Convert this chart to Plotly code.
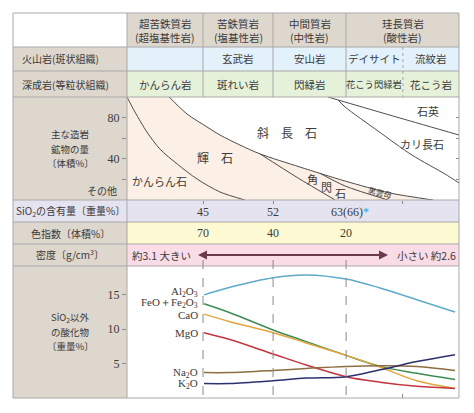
import plotly.graph_objects as go

W, H = 474, 413

# ---------------- data ----------------
group_names = [["超苦鉄質岩", "(超塩基性岩)"], ["苦鉄質岩", "(塩基性岩)"], ["中間質岩", "(中性岩)"], ["珪長質岩", "(酸性岩)"]]
volcanic_rocks = ["", "玄武岩", "安山岩", "デイサイト", "流紋岩"]
plutonic_rocks = ["かんらん岩", "斑れい岩", "閃緑岩", "花こう閃緑岩", "花こう岩"]
row_labels = ["火山岩(斑状組織)", "深成岩(等粒状組織)"]
sio2_values = ["45", "52", "63(66)<span style='color:#2f9fd8'>*</span>"]
color_index_values = ["70", "40", "20"]
density_ends = ["約3.1 大きい", "小さい 約2.6"]

# column boundaries along the body (position 0-100)
col_bounds = [22.9, 44.0, 66.0]
felsic_split = 83.1

# mineral boundary curves (position, cumulative volume %)
olivine_top_x = [0, 2.4, 6.0, 9.9, 15.1, 21.1, 28.0, 35.5]
olivine_top_y = [100, 85.4, 66.0, 49.5, 35.0, 20.4, 7.8, 0]
pyroxene_top_x = [12.7, 18.1, 24.1, 28.0, 34.0, 40.1]
pyroxene_top_y = [100, 83.5, 70.9, 63.1, 53.4, 44.7]
plag_bottom_x = [40.1, 52.1, 65.7, 79.2, 92.2]
plag_bottom_y = [44.7, 32.0, 18.4, 6.8, 0]
hbl_bottom_x = [40.1, 51.2, 62.7]
hbl_bottom_y = [44.7, 22.0, 0]
bio_bottom_x = [58.1, 65.7, 78.6]
bio_bottom_y = [26.0, 13.6, 0]
qz_bottom_x = [60.5, 65.7, 82.2, 100]
qz_bottom_y = [100, 95.1, 79.6, 63.1]
kfs_bottom_x = [63.6, 65.7, 75.6, 85.8, 95.8, 100]
kfs_bottom_y = [97.1, 90.3, 67.0, 43.7, 25.2, 16.5]

mineral_labels = ["かんらん石", "輝　石", "斜　長　石", "石英", "カリ長石", "角", "閃", "石", "黒雲母"]
mineral_label_x = [9.9, 26.5, 48.2, 90.7, 88.9, 56.0, 60.2, 64.2, 76.2]
mineral_label_y = [18.4, 40.8, 66.0, 86.4, 54.4, 20.4, 12.6, 6.8, 7.6]

# oxides (weight %)
oxide_pos = [23.2, 31.0, 44.0, 54.0, 66.0, 76.2, 87.3, 98.8]
al2o3 = [15.0, 16.1, 17.5, 17.9, 17.3, 16.0, 14.3, 12.5]
feo_fe2o3 = [13.7, 12.4, 9.9, 8.2, 6.2, 4.6, 3.6, 2.7]
cao = [12.2, 11.1, 9.5, 8.0, 6.2, 4.5, 2.5, 1.4]
mgo = [9.5, 8.5, 6.4, 4.8, 3.1, 2.3, 1.7, 1.4]
na2o = [3.7, 3.7, 4.0, 4.3, 4.6, 4.7, 4.6, 4.0]
k2o = [2.1, 2.1, 2.5, 2.9, 3.1, 4.1, 5.3, 6.3]
oxide_names = ["Al<sub>2</sub>O<sub>3</sub>", "FeO＋Fe<sub>2</sub>O<sub>3</sub>", "CaO", "MgO",
               "Na<sub>2</sub>O", "K<sub>2</sub>O"]
oxide_label_y = [15.4, 13.75, 12.1, 9.5, 3.6, 2.0]
oxide_series = [al2o3, feo_fe2o3, cao, mgo, na2o, k2o]
oxide_colors = ["#5eabc9", "#3f8a52", "#e3a53c", "#c2343f", "#8e6d40", "#2c2f6c"]

# ---------------- layout constants (pixels) ----------------
JP = "Noto Sans CJK JP"
SERIF = "Liberation Serif"
TXT = "#3a3a3a"
GRID = "#a9a9a9"
TAUPE = "#ded7cd"
BLUE = "#e3f1fb"
GREEN = "#e6f1da"
LAV = "#e6e3f1"
YEL = "#fdf9d3"
PINK = "#f9dce6"
PEACH = "#fcefe5"

L, C0, R = 13, 127, 459
cx = [C0, 203, 273, 346, R]
Y = dict(top=13, h1=47, h2=71, h3=97, m=200, s=222, c=244, d=266, b=398)


def px(x):
    return x / W


def py(y):
    return 1 - y / H


def body_x(p):
    return C0 + p / 100 * (R - C0)


shapes = []


def rect(x0, y0, x1, y1, color):
    shapes.append(dict(type="rect", xref="paper", yref="paper", x0=px(x0), x1=px(x1),
                       y0=py(y1), y1=py(y0), fillcolor=color, line=dict(width=0), layer="below"))


def hline(x0, x1, y, color=GRID, dash=None, width=1):
    shapes.append(dict(type="line", xref="paper", yref="paper", x0=px(x0), x1=px(x1),
                       y0=py(y), y1=py(y), line=dict(color=color, width=width, dash=dash), layer="above"))


def vline(x, y0, y1, color=GRID, dash=None, width=1):
    shapes.append(dict(type="line", xref="paper", yref="paper", x0=px(x), x1=px(x),
                       y0=py(y0), y1=py(y1), line=dict(color=color, width=width, dash=dash), layer="above"))


# backgrounds
rect(L, Y["top"], C0, Y["h1"], "white")
for i in range(4):
    rect(cx[i], Y["top"], cx[i + 1], Y["h1"], TAUPE)
rect(L, Y["h1"], C0, Y["h3"], TAUPE)
rect(C0, Y["h1"], R, Y["h2"], BLUE)
rect(C0, Y["h2"], R, Y["h3"], GREEN)
rect(L, Y["h3"], C0, Y["m"], TAUPE)
rect(C0, Y["h3"], R, Y["m"], "white")
rect(L, Y["m"], R, Y["s"], LAV)
rect(L, Y["s"], C0, Y["c"], TAUPE)
rect(C0, Y["s"], R, Y["c"], YEL)
rect(L, Y["c"], C0, Y["d"], TAUPE)
rect(C0, Y["c"], R, Y["d"], PINK)
rect(L, Y["d"], C0, Y["b"], TAUPE)
rect(C0, Y["d"], R, Y["b"], "white")

# grid
for key in ["top", "h1", "h2", "h3", "m", "s", "c", "d", "b"]:
    hline(L, R, Y[key])
vline(L, Y["top"], Y["b"])
vline(C0, Y["top"], Y["b"])
vline(R, Y["top"], Y["b"])
for x in cx[1:4]:
    vline(x, Y["top"], Y["h3"])
vline(body_x(felsic_split), Y["h1"], Y["h3"], dash="dot")
# dashed guides in oxide section
for p in col_bounds:
    vline(body_x(p), 260, Y["b"], color="#8a8a8a", dash="dash")

annotations = []


def ann(x, y, text, size=10.5, family=JP, color=TXT, xanchor="center", **kw):
    d = dict(x=px(x), y=py(y), xref="paper", yref="paper", text=text, showarrow=False,
             xanchor=xanchor, yanchor="middle", font=dict(family=family, size=size, color=color))
    d.update(kw)
    annotations.append(d)


# header
for i, (l1, l2) in enumerate(group_names):
    ann((cx[i] + cx[i + 1]) / 2, 23.5, l1, size=10.5)
    ann((cx[i] + cx[i + 1]) / 2, 37.5, l2, size=10.5)
ann(20, 59, row_labels[0], size=10, xanchor="left")
ann(20, 84, row_labels[1], size=10, xanchor="left")
sub_centers = [(cx[0] + cx[1]) / 2, (cx[1] + cx[2]) / 2, (cx[2] + cx[3]) / 2,
               (cx[3] + body_x(felsic_split)) / 2, (body_x(felsic_split) + R) / 2]
for i, t in enumerate(volcanic_rocks):
    if t:
        ann(sub_centers[i], 59, t, size=10.5)
for i, t in enumerate(plutonic_rocks):
    ann(sub_centers[i], 84, t, size=9.3 if len(t) > 5 else 10.5)

# mineral section labels
for t, yy in [("主な造岩", 134.5), ("鉱物の量", 148.5), ("〔体積%〕", 162.5)]:
    ann(70, yy, t, size=9.5)
ann(102, 191, "その他", size=10, xanchor="center")

# SiO2 / colour index / density rows
ann(70, 211, "SiO<sub>2</sub>の含有量〔重量%〕", size=10)
for i, t in enumerate(sio2_values):
    xx = cx[i + 1] + (4 if i == 2 else 0)
    ann(xx, 212, t, size=12, family=SERIF)
ann(70, 233, "色指数〔体積%〕", size=10)
for i, t in enumerate(color_index_values):
    ann(cx[i + 1], 233, t, size=12, family=SERIF)
ann(70, 254, "密度〔g/cm<sup>3</sup>〕", size=10)
ann(130, 255, density_ends[0], size=10.5, xanchor="left")
ann(458, 255, density_ends[1], size=10.5, xanchor="right")

# oxide section label
for t, yy in [("SiO<sub>2</sub>以外", 317), ("の酸化物", 332), ("〔重量%〕", 346)]:
    ann(70, yy, t, size=9.5)

# density arrow
annotations.append(dict(x=px(198), y=py(255), xref="paper", yref="paper", text="", showarrow=True,
                        ax=100, ay=0, arrowhead=2, arrowsize=1, arrowwidth=1.8, arrowcolor="#6b3a4e"))
annotations.append(dict(x=px(388), y=py(255), xref="paper", yref="paper", text="", showarrow=True,
                        ax=-100, ay=0, arrowhead=2, arrowsize=1, arrowwidth=1.8, arrowcolor="#6b3a4e"))

# mineral labels in data coordinates
for i, t in enumerate(mineral_labels):
    d = dict(x=mineral_label_x[i], y=mineral_label_y[i], xref="x", yref="y", text=t, showarrow=False,
             font=dict(family=JP, size=11 if i != 8 else 8, color=TXT))
    if i == 2 or i == 1:
        d["font"]["size"] = 12
    if i == 8:
        d["textangle"] = 14
    annotations.append(d)

# oxide labels on left
for i, name in enumerate(oxide_names):
    annotations.append(dict(x=oxide_pos[0] - 1.3, y=oxide_label_y[i], xref="x2", yref="y2",
                            text=name, showarrow=False, xanchor="right", yanchor="middle",
                            font=dict(family=SERIF, size=11, color=TXT)))

fig = go.Figure()
LINE = dict(color="#4d4d4d", width=1)
# mafic area fill
fig.add_trace(go.Scatter(x=[0, pyroxene_top_x[0]], y=[100, 100], mode="lines", fill="tozeroy",
                         fillcolor=PEACH, line=dict(width=0), hoverinfo="skip", showlegend=False))
fig.add_trace(go.Scatter(x=pyroxene_top_x + plag_bottom_x[1:], y=pyroxene_top_y + plag_bottom_y[1:],
                         mode="lines", fill="tozeroy", fillcolor=PEACH,
                         line=dict(color=LINE["color"], width=1, shape="spline", smoothing=0.8),
                         hoverinfo="skip", showlegend=False))
for xs, ys in [(olivine_top_x, olivine_top_y), (hbl_bottom_x, hbl_bottom_y), (bio_bottom_x, bio_bottom_y),
               (qz_bottom_x, qz_bottom_y), (kfs_bottom_x, kfs_bottom_y)]:
    fig.add_trace(go.Scatter(x=xs, y=ys, mode="lines",
                             line=dict(color=LINE["color"], width=1, shape="spline", smoothing=0.8),
                             hoverinfo="skip", showlegend=False))
fig.add_trace(go.Scatter(x=[None], y=[None], yaxis="y3", showlegend=False, hoverinfo="skip"))

for i, vals in enumerate(oxide_series):
    fig.add_trace(go.Scatter(x=oxide_pos, y=vals, mode="lines", xaxis="x2", yaxis="y2",
                             line=dict(color=oxide_colors[i], width=1.5, shape="spline", smoothing=1.0),
                             hoverinfo="skip", showlegend=False))

xdom = [px(C0), px(R)]
tickfont = dict(family=SERIF, size=12, color=TXT)
fig.update_layout(
    width=W, height=H, margin=dict(l=0, r=0, t=0, b=0),
    paper_bgcolor="white", plot_bgcolor="rgba(0,0,0,0)",
    xaxis=dict(domain=xdom, range=[0, 100], showgrid=False, zeroline=False, showline=False,
               ticks="outside", ticklen=3, tickcolor="#8a8a8a", tickvals=[col_bounds[0], col_bounds[1], felsic_split],
               showticklabels=False, anchor="y"),
    yaxis=dict(domain=[py(Y["m"]), py(Y["h3"])], range=[0, 100], showgrid=False, zeroline=False,
               showline=False, ticks="outside", ticklen=4, tickcolor="#8a8a8a",
               tickvals=[20, 40, 60, 80], ticktext=["", "40", "", "80"], tickfont=tickfont, anchor="x"),
    yaxis3=dict(overlaying="y", side="right", anchor="x", range=[0, 100], showgrid=False, zeroline=False,
                showline=False, ticks="inside", ticklen=3, tickcolor="#8a8a8a", tickvals=[20, 40, 60, 80],
                showticklabels=False),
    xaxis2=dict(domain=xdom, range=[0, 100], showgrid=False, zeroline=False, showline=False,
                ticks="inside", ticklen=4, tickcolor="#8a8a8a", tickvals=[felsic_split],
                showticklabels=False, anchor="y2"),
    yaxis2=dict(domain=[py(Y["b"]), py(Y["d"])], range=[0, 19.2], showgrid=False, zeroline=False,
                showline=False, ticks="outside", ticklen=4, tickcolor="#8a8a8a",
                tickvals=[5, 10, 15], tickfont=tickfont, anchor="x2"),
    shapes=shapes, annotations=annotations,
)

fig.write_html("out.html")
